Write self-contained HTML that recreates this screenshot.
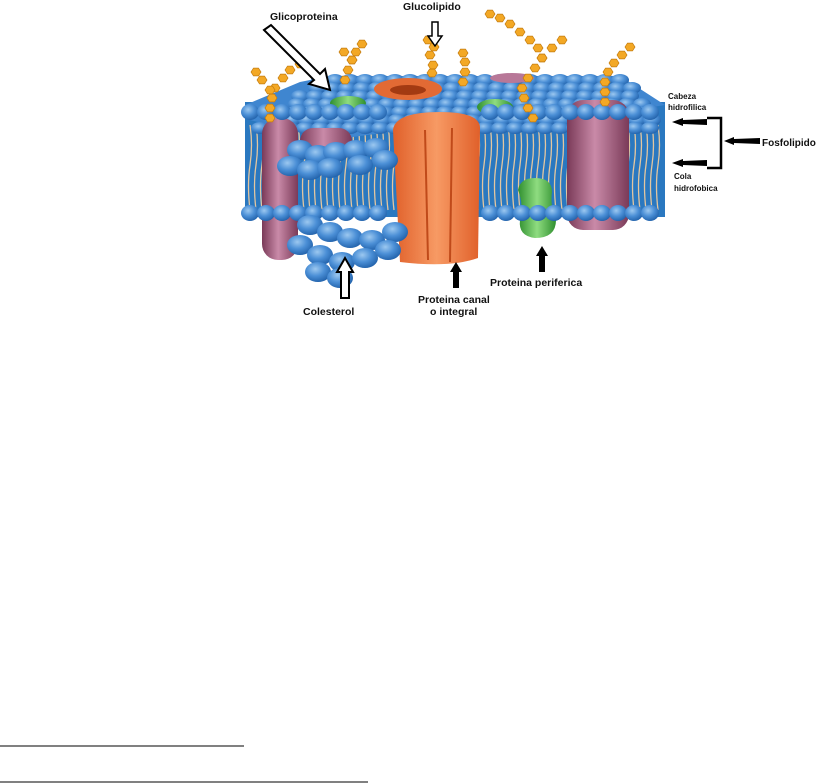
<!DOCTYPE html>
<html><head><meta charset="utf-8"><style>
html,body{margin:0;padding:0;background:#fff;width:820px;height:783px;overflow:hidden}
svg{position:absolute;left:0;top:0}
text{font-family:"Liberation Sans",sans-serif;font-weight:bold;fill:#111}
</style></head><body>
<svg width="820" height="783" viewBox="0 0 820 783" xmlns="http://www.w3.org/2000/svg">
<defs>
<radialGradient id="bb" cx="40%" cy="35%" r="70%"><stop offset="0" stop-color="#9cc8f0"/><stop offset="0.5" stop-color="#4b8fd6"/><stop offset="1" stop-color="#1f5fa8"/></radialGradient>
<linearGradient id="pur" x1="0" x2="1"><stop offset="0" stop-color="#7a3a58"/><stop offset="0.45" stop-color="#c98aa8"/><stop offset="1" stop-color="#7a3a58"/></linearGradient>
<linearGradient id="org" x1="0" x2="1"><stop offset="0" stop-color="#e0602a"/><stop offset="0.5" stop-color="#f79a64"/><stop offset="1" stop-color="#e0602a"/></linearGradient>
<linearGradient id="grn" x1="0" x2="1"><stop offset="0" stop-color="#2f8f2f"/><stop offset="0.5" stop-color="#8fdc80"/><stop offset="1" stop-color="#2f8f2f"/></linearGradient>
</defs>
<g id="mem">
<rect x="245" y="102" width="420" height="115" fill="#2a78c0"/>
<g id="tails" stroke="#e3c6a0" stroke-width="1.3" fill="none"></g>
<polygon points="245,105 300,82 330,76 620,76 665,105 560,122 420,128 330,140 250,120" fill="#3f86d0"/>
<g id="balls"></g>
<rect x="262" y="118" width="36" height="142" rx="16" fill="url(#pur)"/>
<rect x="300" y="128" width="52" height="26" rx="13" fill="url(#pur)"/>
<rect x="567" y="100" width="62" height="130" rx="16" fill="url(#pur)"/>
<ellipse cx="512" cy="78" rx="22" ry="5" fill="#b87898"/>
<path d="M393,130 Q395,112 440,112 Q480,112 480,128 L478,258 Q450,268 400,262 Z" fill="url(#org)"/>
<line x1="425" y1="130" x2="428" y2="260" stroke="#c04a1a" stroke-width="2"/>
<line x1="452" y1="128" x2="450" y2="262" stroke="#c04a1a" stroke-width="2"/>
<ellipse cx="408" cy="89" rx="34" ry="11" fill="#e26a34"/>
<ellipse cx="408" cy="90" rx="18" ry="5" fill="#a33a12"/>
<ellipse cx="348" cy="103" rx="18" ry="7" fill="url(#grn)"/>
<ellipse cx="495" cy="107" rx="18" ry="8" fill="url(#grn)"/>
<path d="M518,190 Q520,178 535,178 Q552,178 552,192 Q550,205 556,220 Q556,238 535,238 Q518,236 520,220 Q524,205 518,190Z" fill="url(#grn)"/>
<g id="front"></g>
<g id="sugar" fill="#f3a825" stroke="#c47c10" stroke-width="0.7"></g>
</g>
<text x="270" y="20" font-size="10.5">Glicoproteina</text>
<polygon points="264,30 271,25 320,74 325,69 330,90 309,84 314,80" fill="#fff" stroke="#000" stroke-width="2"/>
<text x="403" y="10" font-size="10.5">Glucolipido</text>
<polygon points="432,22 438,22 438,36 442,36 435,46 428,36 432,36" fill="#fff" stroke="#000" stroke-width="1.5"/>
<polygon points="341,298 349,298 349,272 353,272 345,258 337,272 341,272" fill="#fff" stroke="#000" stroke-width="2"/>
<text x="303" y="315" font-size="10.5">Colesterol</text>
<polygon points="453,288 459,288 459,272 462,272 456,262 450,272 453,272" fill="#000"/>
<text x="418" y="303" font-size="10.5">Proteina canal</text>
<text x="430" y="315" font-size="10.5">o integral</text>
<polygon points="539,272 545,272 545,256 548,256 542,246 536,256 539,256" fill="#000"/>
<text x="490" y="286" font-size="10.5">Proteina periferica</text>
<text x="668" y="99" font-size="8">Cabeza</text>
<text x="668" y="110" font-size="8">hidrofilica</text>
<text x="674" y="179" font-size="8">Cola</text>
<text x="674" y="191" font-size="8">hidrofobica</text>
<path d="M707,118 H721 V168 H707" fill="none" stroke="#000" stroke-width="2.5"/>
<polygon points="672,122 683,118 683,120 707,119 707,125 683,124 683,126" fill="#000"/>
<polygon points="672,163 683,159 683,161 707,160 707,166 683,165 683,167" fill="#000"/>
<polygon points="724,141 734,137 734,139 760,138 760,144 734,143 734,145" fill="#000"/>
<text x="762" y="146" font-size="10">Fosfolipido</text>
<line x1="0" y1="746" x2="244" y2="746" stroke="#000" stroke-width="1"/>
<line x1="0" y1="782" x2="368" y2="782" stroke="#000" stroke-width="1"/>
</svg>
<script>
var NS="http://www.w3.org/2000/svg";
function el(p,t,a){var e=document.createElementNS(NS,t);for(var k in a)e.setAttribute(k,a[k]);document.getElementById(p).appendChild(e);return e;}
for(var x=250;x<662;x+=6){el("tails","path",{d:"M"+x+",125 q3,20 0,40 q-3,20 0,45"});}
for(var r=0;r<7;r++){var y=80+r*8;var x0=320-r*10, x1=625+r*6;for(var x=x0;x<=x1;x+=15){el("balls","ellipse",{cx:x+(r%2)*7,cy:y,rx:9,ry:6,fill:"url(#bb)"});}}
for(var x=250;x<=660;x+=16){if(x>390&&x<482)continue;el("front","ellipse",{cx:x,cy:112,rx:9,ry:8,fill:"url(#bb)"});el("front","ellipse",{cx:x,cy:213,rx:9,ry:8,fill:"url(#bb)"});}
var pts=[[300,150],[318,155],[336,152],[356,150],[376,148],[290,166],[310,170],[330,168],[360,165],[385,160],[310,225],[330,232],[350,238],[372,240],[395,232],[300,245],[320,255],[342,262],[365,258],[388,250],[318,272],[340,278]];
pts.forEach(function(p){el("front","ellipse",{cx:p[0],cy:p[1],rx:13,ry:10,fill:"url(#bb)"});});
var chains=[[[270,118],[270,108],[272,98],[275,88],[283,78],[290,70],[300,64]],[[270,90],[262,80],[256,72]],[[345,80],[348,70],[352,60],[356,52],[362,44]],[[352,60],[344,52]],[[430,55],[433,65],[432,73],[434,47],[428,40]],[[463,82],[465,72],[465,62],[463,53]],[[533,118],[528,108],[524,98],[522,88],[528,78],[535,68],[542,58],[538,48],[530,40],[520,32],[510,24],[500,18],[490,14]],[[542,58],[552,48],[562,40]],[[605,102],[605,92],[605,82],[608,72],[614,63],[622,55],[630,47]]];
chains.forEach(function(c){c.forEach(function(p){var s="";for(var i=0;i<6;i++){var a=Math.PI/3*i;s+=(p[0]+5*Math.cos(a))+","+(p[1]+4.5*Math.sin(a))+" ";}el("sugar","polygon",{points:s});});});
</script>
</body></html>
